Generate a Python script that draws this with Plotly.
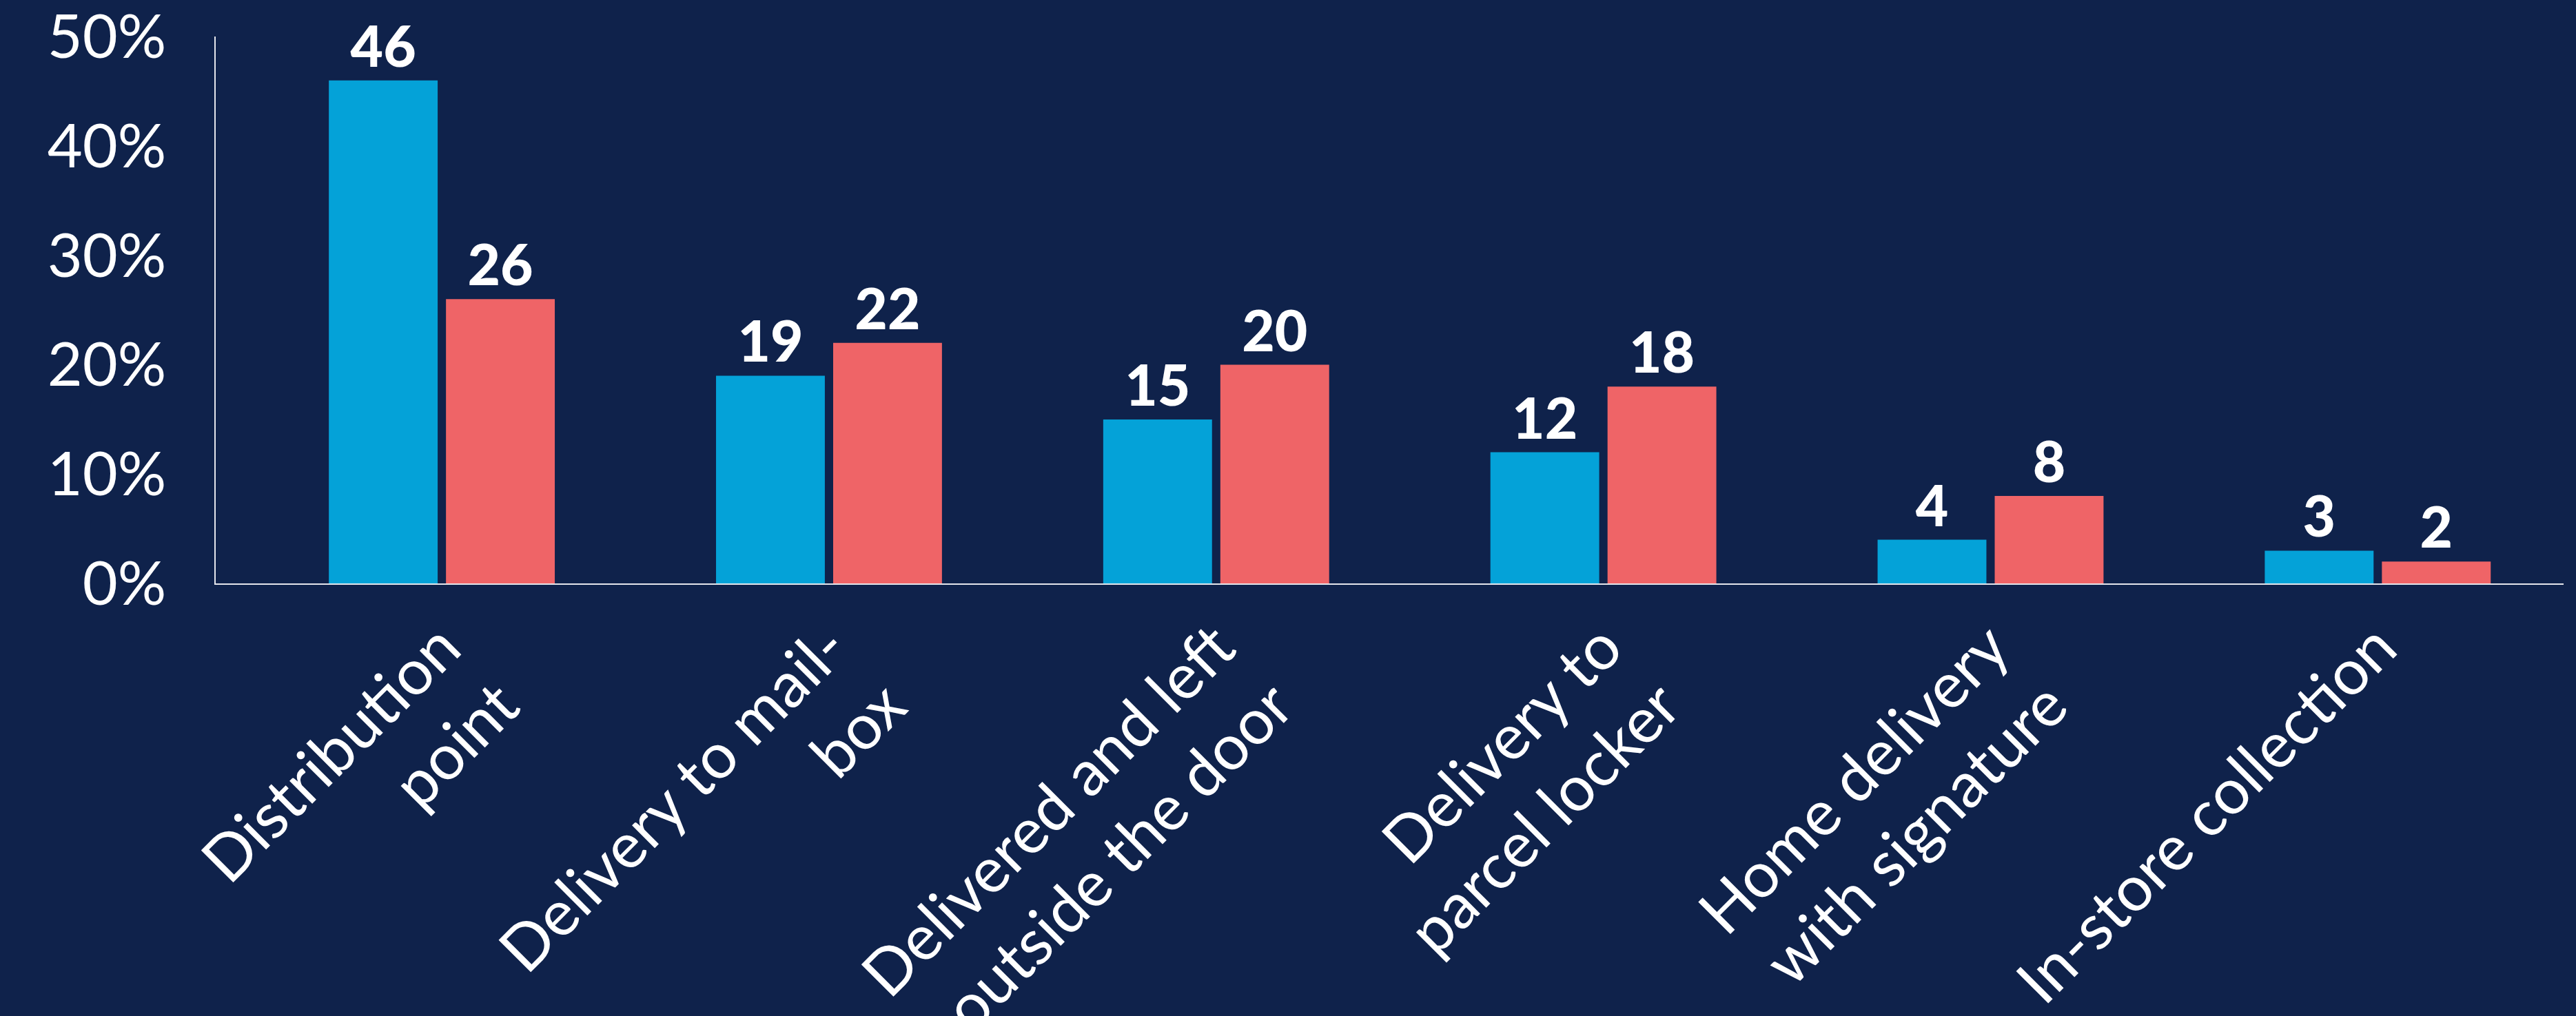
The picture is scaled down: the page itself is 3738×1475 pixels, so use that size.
import plotly.graph_objects as go

# Delivery options and the share choosing each, for the two groups
categories = [
    "Distribution<br>point",
    "Delivery to mail-<br>box",
    "Delivered and left<br>outside the door",
    "Delivery to<br>parcel locker",
    "Home delivery<br>with signature",
    "In-store collection",
]
series_blue = [46, 19, 15, 12, 4, 3]
series_red = [26, 22, 20, 18, 8, 2]
y_ticks = [0, 10, 20, 30, 40, 50]

BG = "#0F224B"
BLUE = "#04A2D8"
RED = "#EF6467"
AXIS = "#E4E6EC"
LABEL_FONT = "Lato, 'Open Sans', sans-serif"

fig = go.Figure()
for vals, color in ((series_blue, BLUE), (series_red, RED)):
    fig.add_trace(go.Bar(
        x=categories,
        y=vals,
        marker=dict(color=color, line=dict(width=0)),
        text=[str(v) for v in vals],
        textposition="outside",
        textfont=dict(family=LABEL_FONT, size=82, color="white", weight=900),
        constraintext="none",
        cliponaxis=False,
        showlegend=False,
        hoverinfo="skip",
    ))

fig.update_layout(
    width=3738,
    height=1475,
    paper_bgcolor=BG,
    plot_bgcolor=BG,
    margin=dict(l=313, r=18, t=53, b=628, pad=0),
    barmode="group",
    bargap=0.395,
    bargroupgap=0.071,
    font=dict(family=LABEL_FONT, color="white"),
    xaxis=dict(
        type="category",
        range=[-0.584, 5.48],
        tickangle=-45,
        tickfont=dict(family=LABEL_FONT, size=92, color="white"),
        showline=True,
        linecolor=AXIS,
        linewidth=2,
        showgrid=False,
        zeroline=False,
        ticks="",
        automargin=False,
        fixedrange=True,
    ),
    yaxis=dict(
        range=[0, 50.02],
        tickvals=y_ticks,
        ticktext=[f"{t}%" for t in y_ticks],
        tickfont=dict(family=LABEL_FONT, size=88, color="white"),
        ticklabelstandoff=52,
        ticklabeloverflow="allow",
        showline=True,
        linecolor=AXIS,
        linewidth=2,
        showgrid=False,
        zeroline=False,
        ticks="",
        automargin=False,
        fixedrange=True,
    ),
)

fig.write_html("out.html", config={"displayModeBar": False})
